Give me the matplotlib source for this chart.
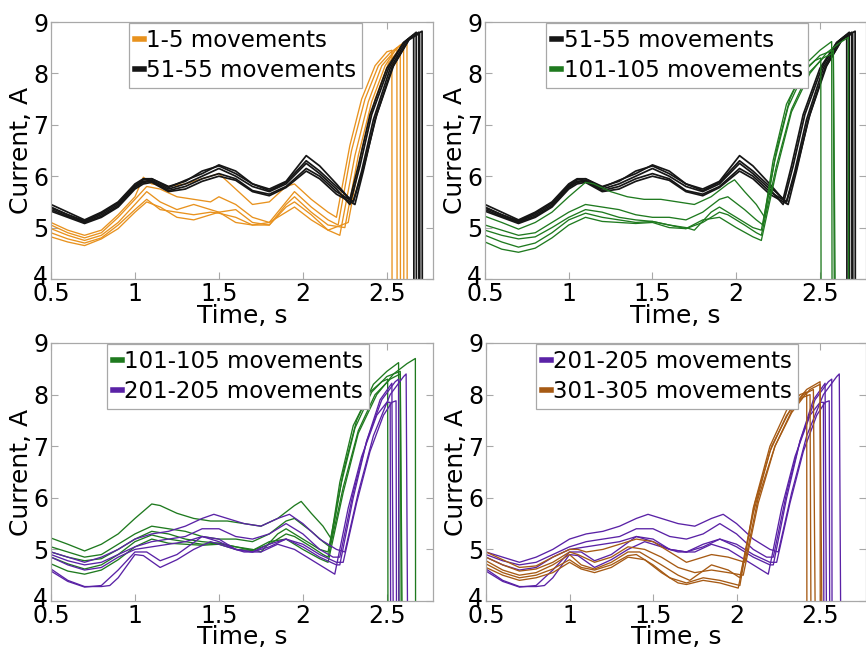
import matplotlib
matplotlib.use("Agg")
import matplotlib.pyplot as plt
import matplotlib.transforms as mtransforms

# ---------------- data ----------------
# group "1-5 movements" (orange)
T_1_5 = [
    [0.5,0.6,0.7,0.8,0.9,1.0,1.05,1.1,1.2,1.3,1.4,1.5,1.6,1.7,1.8,1.9,1.95,2.05,2.15,2.2,2.28,2.35,2.43,2.5,2.53,2.532],
    [0.5,0.6,0.7,0.8,0.9,1.0,1.07,1.15,1.25,1.35,1.45,1.5,1.6,1.7,1.8,1.9,1.95,2.05,2.15,2.21,2.29,2.37,2.45,2.52,2.56,2.562],
    [0.5,0.6,0.7,0.8,0.9,1.0,1.07,1.15,1.25,1.35,1.45,1.5,1.6,1.7,1.8,1.9,1.95,2.05,2.15,2.22,2.31,2.39,2.47,2.55,2.58,2.582],
    [0.5,0.6,0.7,0.8,0.9,1.0,1.07,1.15,1.25,1.35,1.45,1.5,1.6,1.7,1.8,1.9,1.95,2.05,2.15,2.25,2.33,2.41,2.49,2.56,2.6,2.602],
    [0.5,0.6,0.7,0.8,0.9,1.0,1.07,1.15,1.25,1.35,1.45,1.5,1.6,1.7,1.8,1.9,1.95,2.05,2.15,2.27,2.35,2.43,2.51,2.58,2.62,2.622],
]
I_1_5 = [
    [5.1,4.95,4.85,4.95,5.25,5.6,5.98,5.85,5.8,5.85,5.95,6.05,5.75,5.45,5.5,5.8,5.85,5.55,5.3,5.2,6.6,7.5,8.15,8.42,8.45,0.0],
    [5.05,4.9,4.8,4.9,5.2,5.55,5.8,5.75,5.6,5.55,5.5,5.6,5.45,5.2,5.1,5.5,5.7,5.4,5.15,5.05,6.5,7.5,8.15,8.4,8.5,0.0],
    [4.98,4.85,4.75,4.85,5.1,5.45,5.7,5.5,5.35,5.45,5.35,5.3,5.35,5.1,5.05,5.4,5.5,5.25,4.95,4.85,6.4,7.45,8.15,8.45,8.55,0.0],
    [4.9,4.78,4.7,4.8,5.05,5.35,5.55,5.35,5.3,5.25,5.3,5.28,5.2,5.05,5.05,5.45,5.6,5.3,5.05,5.0,6.4,7.45,8.15,8.5,8.6,0.0],
    [4.82,4.72,4.65,4.78,4.98,5.3,5.5,5.4,5.2,5.15,5.25,5.3,5.1,5.05,5.1,5.3,5.4,5.15,4.95,5.1,6.5,7.5,8.2,8.5,8.65,0.0],
]

# group "51-55 movements" (black)
T_51_55 = [
    [0.5,0.6,0.7,0.8,0.9,1.0,1.05,1.1,1.2,1.3,1.4,1.5,1.6,1.7,1.8,1.9,2.02,2.1,2.2,2.28,2.33,2.4,2.5,2.6,2.66,2.662],
    [0.5,0.6,0.7,0.8,0.9,1.0,1.05,1.1,1.2,1.3,1.4,1.5,1.6,1.7,1.8,1.9,2.02,2.1,2.2,2.28,2.34,2.41,2.51,2.6,2.675,2.677],
    [0.5,0.6,0.7,0.8,0.9,1.0,1.05,1.1,1.2,1.3,1.4,1.5,1.6,1.7,1.8,1.9,2.02,2.1,2.2,2.3,2.35,2.42,2.52,2.62,2.69,2.692],
    [0.5,0.6,0.7,0.8,0.9,1.0,1.05,1.1,1.2,1.3,1.4,1.5,1.6,1.7,1.8,1.9,2.02,2.1,2.2,2.31,2.36,2.43,2.53,2.63,2.695,2.697],
    [0.5,0.6,0.7,0.8,0.9,1.0,1.05,1.1,1.2,1.3,1.4,1.5,1.6,1.7,1.8,1.9,2.02,2.1,2.2,2.3,2.36,2.44,2.54,2.64,2.71,2.712],
]
I_51_55 = [
    [5.45,5.3,5.15,5.3,5.5,5.85,5.95,5.95,5.8,5.9,6.1,6.2,6.05,5.85,5.75,5.9,6.4,6.2,5.85,5.55,6.2,7.2,8.1,8.6,8.75,0.0],
    [5.4,5.25,5.12,5.25,5.45,5.8,5.9,5.92,5.75,5.85,6.0,6.15,6.0,5.8,5.7,5.85,6.25,6.05,5.75,5.45,6.2,7.2,8.1,8.6,8.8,0.0],
    [5.35,5.22,5.1,5.22,5.42,5.78,5.88,5.9,5.72,5.8,5.95,6.05,5.95,5.72,5.65,5.8,6.15,6.0,5.7,5.5,6.1,7.1,8.1,8.65,8.8,0.0],
    [5.32,5.2,5.08,5.2,5.4,5.75,5.85,5.88,5.7,5.75,5.9,6.0,5.92,5.7,5.62,5.78,6.1,5.95,5.65,5.45,6.1,7.1,8.1,8.65,8.78,0.0],
    [5.38,5.25,5.13,5.28,5.48,5.82,5.93,5.95,5.78,5.92,6.05,6.22,6.1,5.85,5.72,5.88,6.3,6.1,5.8,5.5,6.15,7.2,8.15,8.7,8.82,0.0],
]

# group "101-105 movements" (green)
T_101_105 = [
    [0.5,0.6,0.7,0.8,0.9,1.0,1.1,1.15,1.25,1.35,1.45,1.55,1.65,1.75,1.85,1.95,1.99,2.05,2.12,2.17,2.24,2.32,2.42,2.5,2.57,2.574],
    [0.5,0.6,0.7,0.8,0.9,1.0,1.1,1.2,1.3,1.4,1.5,1.6,1.7,1.8,1.9,1.95,2.05,2.12,2.16,2.22,2.3,2.4,2.47,2.505,2.508],
    [0.5,0.6,0.7,0.8,0.9,1.0,1.1,1.2,1.3,1.4,1.5,1.6,1.7,1.75,1.85,1.9,2.0,2.1,2.15,2.23,2.31,2.41,2.5,2.58,2.6],
    [0.5,0.6,0.7,0.8,0.9,1.0,1.1,1.2,1.3,1.4,1.5,1.6,1.7,1.8,1.9,1.95,2.05,2.12,2.15,2.24,2.33,2.43,2.52,2.58,2.59],
    [0.5,0.6,0.7,0.8,0.9,1.0,1.1,1.2,1.3,1.4,1.5,1.6,1.7,1.8,1.9,2.0,2.1,2.15,2.24,2.33,2.44,2.54,2.62,2.67,2.672],
]
I_101_105 = [
    [5.22,5.1,4.97,5.1,5.3,5.6,5.88,5.85,5.7,5.6,5.55,5.55,5.5,5.45,5.6,5.85,5.93,5.7,5.45,5.2,6.5,7.5,8.2,8.45,8.62,0.0],
    [5.05,4.95,4.85,4.9,5.1,5.3,5.45,5.4,5.35,5.25,5.2,5.2,5.15,5.3,5.55,5.6,5.35,5.15,5.05,6.3,7.4,8.05,8.25,8.3,0.0],
    [4.95,4.85,4.78,4.82,5.0,5.2,5.35,5.3,5.2,5.15,5.12,5.05,5.0,4.95,5.3,5.4,5.2,5.0,4.95,6.3,7.35,8.05,8.35,8.45,0.0],
    [4.85,4.72,4.62,4.7,4.9,5.15,5.28,5.2,5.15,5.1,5.12,5.05,4.98,5.1,5.3,5.25,5.05,4.9,4.85,6.2,7.3,8.0,8.3,8.4,0.0],
    [4.72,4.58,4.52,4.6,4.8,5.05,5.2,5.12,5.1,5.08,5.1,5.0,4.98,5.15,5.2,5.0,4.82,4.75,6.1,7.25,8.0,8.4,8.6,8.7,0.0],
]

# group "201-205 movements" (purple)
T_201_205 = [
    [0.5,0.6,0.7,0.8,0.9,1.0,1.1,1.2,1.3,1.4,1.47,1.55,1.65,1.75,1.85,1.92,2.0,2.1,2.2,2.25,2.33,2.42,2.52,2.6,2.615,2.63],
    [0.5,0.6,0.7,0.8,0.9,1.0,1.1,1.2,1.3,1.4,1.5,1.6,1.7,1.8,1.9,2.0,2.1,2.18,2.22,2.3,2.38,2.46,2.53,2.545],
    [0.5,0.6,0.7,0.8,0.9,1.0,1.1,1.2,1.3,1.4,1.5,1.6,1.7,1.8,1.9,2.0,2.1,2.2,2.24,2.32,2.4,2.48,2.53,2.555,2.56],
    [0.5,0.6,0.7,0.8,0.85,0.9,1.0,1.05,1.15,1.25,1.35,1.45,1.55,1.65,1.75,1.85,1.95,2.05,2.15,2.19,2.27,2.35,2.44,2.5,2.52,2.525],
    [0.5,0.6,0.7,0.8,0.9,1.0,1.07,1.15,1.25,1.4,1.5,1.6,1.7,1.8,1.9,2.0,2.1,2.2,2.22,2.3,2.38,2.47,2.55,2.57,2.573],
]
I_201_205 = [
    [4.95,4.85,4.75,4.85,5.0,5.2,5.3,5.35,5.45,5.6,5.68,5.6,5.5,5.45,5.6,5.68,5.5,5.2,5.0,4.95,6.1,7.2,8.0,8.35,8.4,0.0],
    [4.9,4.78,4.7,4.75,4.9,5.05,5.15,5.2,5.25,5.4,5.4,5.25,5.2,5.3,5.5,5.3,5.0,4.85,4.85,6.1,7.1,7.9,8.22,0.0],
    [4.85,4.7,4.6,4.65,4.85,5.0,5.05,5.1,5.15,5.25,5.2,5.0,4.95,5.05,5.2,5.1,4.9,4.75,4.75,5.9,6.9,7.6,7.85,7.88,0.0],
    [4.62,4.4,4.28,4.28,4.3,4.45,4.9,4.88,4.65,4.8,5.0,5.15,5.05,4.95,4.95,5.1,5.0,4.8,4.6,4.52,5.8,6.8,7.6,7.85,7.85,0.0],
    [4.58,4.38,4.27,4.3,4.6,4.95,4.95,4.78,4.9,5.25,5.15,5.0,4.95,5.1,5.2,5.05,4.85,4.7,4.7,6.0,7.1,7.9,8.25,8.3,0.0],
]

# group "301-305 movements" (brown)
T_301_305 = [
    [0.5,0.6,0.7,0.8,0.9,1.0,1.05,1.1,1.2,1.3,1.4,1.5,1.6,1.7,1.8,1.85,1.95,2.05,2.13,2.23,2.33,2.4,2.44,2.45],
    [0.5,0.6,0.7,0.8,0.9,1.0,1.05,1.15,1.25,1.35,1.45,1.55,1.65,1.75,1.85,1.95,2.04,2.13,2.23,2.34,2.44,2.5,2.52],
    [0.5,0.6,0.7,0.8,0.9,1.0,1.07,1.15,1.25,1.35,1.42,1.55,1.65,1.72,1.85,1.95,2.02,2.11,2.21,2.32,2.42,2.5,2.502],
    [0.5,0.6,0.7,0.8,0.9,1.0,1.07,1.15,1.25,1.35,1.4,1.5,1.6,1.7,1.8,1.9,2.02,2.1,2.2,2.3,2.38,2.42,2.422],
    [0.5,0.6,0.7,0.8,0.9,1.0,1.07,1.15,1.25,1.35,1.45,1.55,1.65,1.7,1.8,1.9,2.01,2.1,2.2,2.3,2.4,2.46,2.48],
]
I_301_305 = [
    [4.95,4.8,4.65,4.68,4.85,5.0,5.0,4.95,5.0,5.1,5.2,5.15,4.95,4.75,4.85,4.9,4.85,4.75,6.0,7.0,7.65,7.95,8.0,0.0],
    [4.85,4.7,4.58,4.62,4.75,4.95,4.9,4.75,4.85,5.05,5.0,4.85,4.65,4.55,4.6,4.55,4.5,5.9,7.0,7.75,8.1,8.2,0.0],
    [4.78,4.6,4.5,4.55,4.7,4.9,4.7,4.62,4.75,4.95,4.95,4.7,4.5,4.4,4.7,4.6,4.45,5.9,7.0,7.7,8.1,8.25,0.0],
    [4.72,4.55,4.45,4.5,4.62,4.8,4.65,4.6,4.7,4.88,4.9,4.7,4.45,4.35,4.45,4.4,4.3,5.8,7.0,7.7,8.0,8.05,0.0],
    [4.65,4.5,4.4,4.45,4.55,4.75,4.62,4.55,4.65,4.85,4.8,4.55,4.35,4.32,4.4,4.35,4.25,5.7,6.9,7.6,8.0,8.1,0.0],
]

GROUP_LABELS = ["1-5 movements", "51-55 movements", "101-105 movements",
                "201-205 movements", "301-305 movements"]
X_TICKS = [0.5, 1, 1.5, 2, 2.5]
X_TICK_LABELS = ["0.5", "1", "1.5", "2", "2.5"]
Y_TICKS = [4, 5, 6, 7, 8, 9]

# ---------------- style ----------------
GROUPS = {
    "1-5 movements": (T_1_5, I_1_5, "#E8921E", 0.95),
    "51-55 movements": (T_51_55, I_51_55, "#161616", 1.25),
    "101-105 movements": (T_101_105, I_101_105, "#1F7A1F", 0.95),
    "201-205 movements": (T_201_205, I_201_205, "#5A22A6", 0.95),
    "301-305 movements": (T_301_305, I_301_305, "#A65A14", 0.95),
}
PANELS = [
    (GROUP_LABELS[0], GROUP_LABELS[1]),
    (GROUP_LABELS[1], GROUP_LABELS[2]),
    (GROUP_LABELS[2], GROUP_LABELS[3]),
    (GROUP_LABELS[3], GROUP_LABELS[4]),
]
W, H = 866, 648
# axes boxes in pixels: left, top, right, bottom
BOXES = [(51, 22, 433, 279), (485, 22, 866, 279), (51, 343, 433, 601), (486, 343, 866, 601)]
LEG_X = [0.204, 0.161, 0.147, 0.132]
XLABEL_PAD = [-1, -1, -2, -2]

FRAME = "#a8a8a8"
plt.rcParams["font.family"] = ["DejaVu Sans"]

fig = plt.figure(figsize=(W / 100, H / 100), dpi=100)
for k, (g1, g2) in enumerate(PANELS):
    l, t, r, b = BOXES[k]
    ax = fig.add_axes([l / W, 1 - b / H, (r - l) / W, (b - t) / H])
    for g in (g1, g2):
        Ts, Is, col, lw = GROUPS[g]
        for i, (tt, ii) in enumerate(zip(Ts, Is)):
            ax.plot(tt, ii, color=col, lw=lw, label=g if i == 0 else None,
                    solid_joinstyle="round")
    ax.set_xlim(0.5, 2.775)
    ax.set_ylim(4, 9)
    ax.set_xticks(X_TICKS)
    ax.set_xticklabels(X_TICK_LABELS)
    ax.set_yticks(Y_TICKS)
    ax.tick_params(direction="in", length=5, width=0.8, color=FRAME,
                   labelsize=17, top=True, right=True, pad=2)
    # lift the lowest y label a little so it only touches the "0.5" label
    lab4 = ax.get_yticklabels()[0]
    lab4.set_transform(lab4.get_transform() +
                       mtransforms.ScaledTranslation(0, 4 / 100, fig.dpi_scale_trans))
    for s in ax.spines.values():
        s.set_color(FRAME)
        s.set_linewidth(0.9)
    ax.set_xlabel("Time, s", fontsize=18, labelpad=XLABEL_PAD[k])
    ax.set_ylabel("Current, A", fontsize=18, labelpad=0)
    leg = ax.legend(loc="upper left", bbox_to_anchor=(LEG_X[k], 0.995),
                    fontsize=16.5, handlelength=0.4, handletextpad=0.1,
                    borderpad=0.25, labelspacing=0.3, borderaxespad=0.0,
                    fancybox=False, framealpha=1.0, edgecolor=FRAME)
    for line in leg.get_lines():
        line.set_linewidth(4)
    leg.get_frame().set_linewidth(0.9)

fig.savefig("out.png", dpi=100)
